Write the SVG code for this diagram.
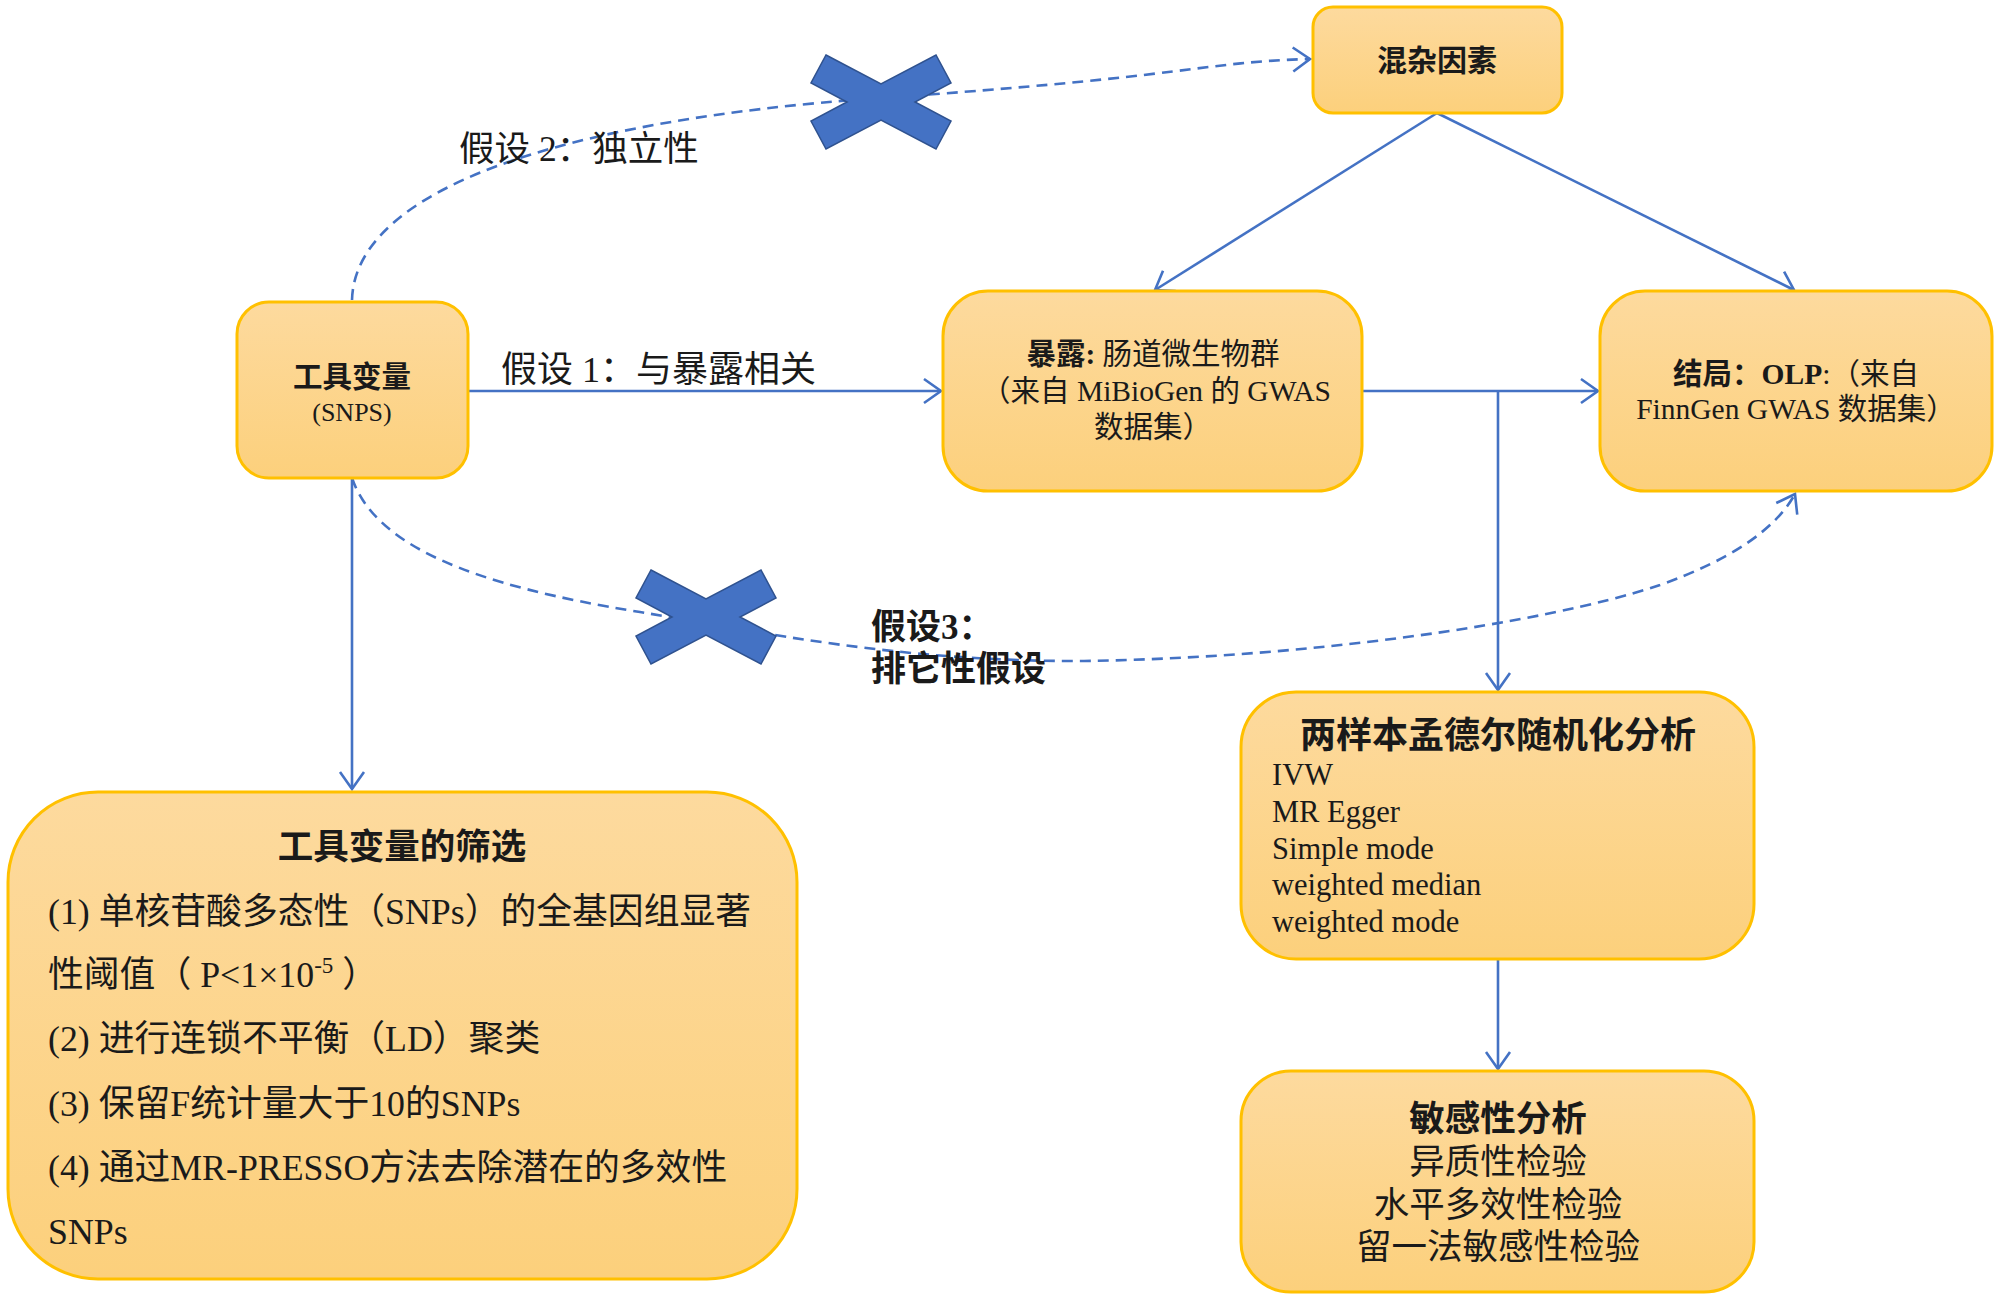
<svg xmlns="http://www.w3.org/2000/svg" width="1999" height="1301" viewBox="0 0 1999 1301">
<defs>
<linearGradient id="boxFill" x1="0" y1="0" x2="0" y2="1">
<stop offset="0" stop-color="#FDDA9E"/>
<stop offset="1" stop-color="#FCD07C"/>
</linearGradient>
<marker id="arr" markerUnits="userSpaceOnUse" markerWidth="40" markerHeight="40" viewBox="-20 -20 40 40" refX="0" refY="0" orient="auto">
<path d="M-17,-12 L0,0 L-17,12" fill="none" stroke="#4472C4" stroke-width="2.6"/>
</marker>
<polygon id="xmark" points="-55,-47 0,-18 55,-47 70,-19 34,0 70,19 55,47 0,18 -55,47 -70,19 -34,0 -70,-19"/>
</defs>
<style>
.box{fill:url(#boxFill);stroke:#FFC000;stroke-width:3}
.t{font-family:"Liberation Serif","Noto Sans CJK SC",serif;fill:#1a1a1a}
.b{font-weight:bold}
.c{text-anchor:middle}
.ln{fill:none;stroke:#4472C4;stroke-width:2.6}
.dash{fill:none;stroke:#4472C4;stroke-width:2.6;stroke-dasharray:11 7}
.x{fill:#4472C4;stroke:#2F528F;stroke-width:1.5}
</style>

<g id="connectors">
<line class="ln" x1="468" y1="391" x2="941" y2="391" marker-end="url(#arr)"/>
<line class="ln" x1="352" y1="478" x2="352" y2="789" marker-end="url(#arr)"/>
<line class="ln" x1="1362" y1="391" x2="1598" y2="391" marker-end="url(#arr)"/>
<line class="ln" x1="1498" y1="391" x2="1498" y2="690" marker-end="url(#arr)"/>
<line class="ln" x1="1437" y1="113" x2="1155" y2="290" marker-end="url(#arr)"/>
<line class="ln" x1="1437" y1="113" x2="1794" y2="290" marker-end="url(#arr)"/>
<line class="ln" x1="1498" y1="959" x2="1498" y2="1069" marker-end="url(#arr)"/>
<path class="dash" d="M352,300 C355,190 560,120 880,98 S1200,62 1310,59" marker-end="url(#arr)"/>
<path class="dash" d="M352,478 C375,545 470,585 640,612 C760,632 900,662 1084,661 C1300,658 1540,625 1660,585 C1730,560 1775,530 1795,494" marker-end="url(#arr)"/>
</g>

<g id="cross1"><use href="#xmark" class="x" transform="translate(881,102)"/></g>
<g id="cross2"><use href="#xmark" class="x" transform="translate(706,617)"/></g>

<g id="label-h1"><text class="t" x="501" y="382" font-size="36">假设 1：与暴露相关</text></g>
<g id="label-h2"><text class="t" x="459" y="161" font-size="35.5">假设 2：独立性</text></g>
<g id="label-h3">
<text class="t b" x="871" y="639" font-size="35">假设3：</text>
<text class="t b" x="871" y="681" font-size="35">排它性假设</text>
</g>

<g id="node-confound">
<rect class="box" x="1313" y="7" width="249" height="106" rx="20"/>
<text class="t b c" x="1437" y="71" font-size="30">混杂因素</text>
</g>

<g id="node-iv">
<rect class="box" x="237" y="302" width="231" height="176" rx="32"/>
<text class="t b c" x="352" y="387" font-size="29.5">工具变量</text>
<text class="t c" x="352" y="421" font-size="26">(SNPS)</text>
</g>

<g id="node-exposure">
<rect class="box" x="943" y="291" width="419" height="200" rx="45"/>
<text class="t c" x="1153" y="364" font-size="29.5"><tspan class="b">暴露:</tspan> 肠道微生物群</text>
<text class="t c" x="1156" y="401" font-size="29.5">（来自 MiBioGen 的 GWAS</text>
<text class="t c" x="1153" y="437" font-size="29.5">数据集）</text>
</g>

<g id="node-outcome">
<rect class="box" x="1600" y="291" width="392" height="200" rx="45"/>
<text class="t c" x="1796" y="384" font-size="29.5"><tspan class="b">结局：OLP</tspan>:（来自</text>
<text class="t c" x="1796" y="419" font-size="29.5">FinnGen GWAS 数据集）</text>
</g>

<g id="node-mr">
<rect class="box" x="1241" y="692" width="513" height="267" rx="55"/>
<text class="t b c" x="1498" y="748" font-size="36">两样本孟德尔随机化分析</text>
<text class="t" x="1272" y="785" font-size="30.5">IVW</text>
<text class="t" x="1272" y="822" font-size="30.5">MR Egger</text>
<text class="t" x="1272" y="859" font-size="30.5">Simple mode</text>
<text class="t" x="1272" y="895" font-size="30.5">weighted median</text>
<text class="t" x="1272" y="932" font-size="30.5">weighted mode</text>
</g>

<g id="node-sens">
<rect class="box" x="1241" y="1071" width="513" height="221" rx="50"/>
<text class="t b c" x="1498" y="1131" font-size="35.5">敏感性分析</text>
<text class="t c" x="1498" y="1174" font-size="35.5" fill="#333">异质性检验</text>
<text class="t c" x="1498" y="1217" font-size="35.5">水平多效性检验</text>
<text class="t c" x="1498" y="1259" font-size="35.5">留一法敏感性检验</text>
</g>

<g id="node-select">
<rect class="box" x="8" y="792" width="789" height="487" rx="90"/>
<text class="t b c" x="402" y="859" font-size="35.5">工具变量的筛选</text>
<text class="t" x="48" y="924" font-size="35.8">(1) 单核苷酸多态性（SNPs）的全基因组显著</text>
<text class="t" x="48" y="987" font-size="35.8">性阈值（ P&lt;1×10<tspan font-size="23" dy="-14">-5</tspan><tspan dy="14"> ）</tspan></text>
<text class="t" x="48" y="1051" font-size="35.8">(2) 进行连锁不平衡（LD）聚类</text>
<text class="t" x="48" y="1116" font-size="35.8">(3) 保留F统计量大于10的SNPs</text>
<text class="t" x="48" y="1180" font-size="35.8">(4) 通过MR-PRESSO方法去除潜在的多效性</text>
<text class="t" x="48" y="1244" font-size="35.8">SNPs</text>
</g>
</svg>
